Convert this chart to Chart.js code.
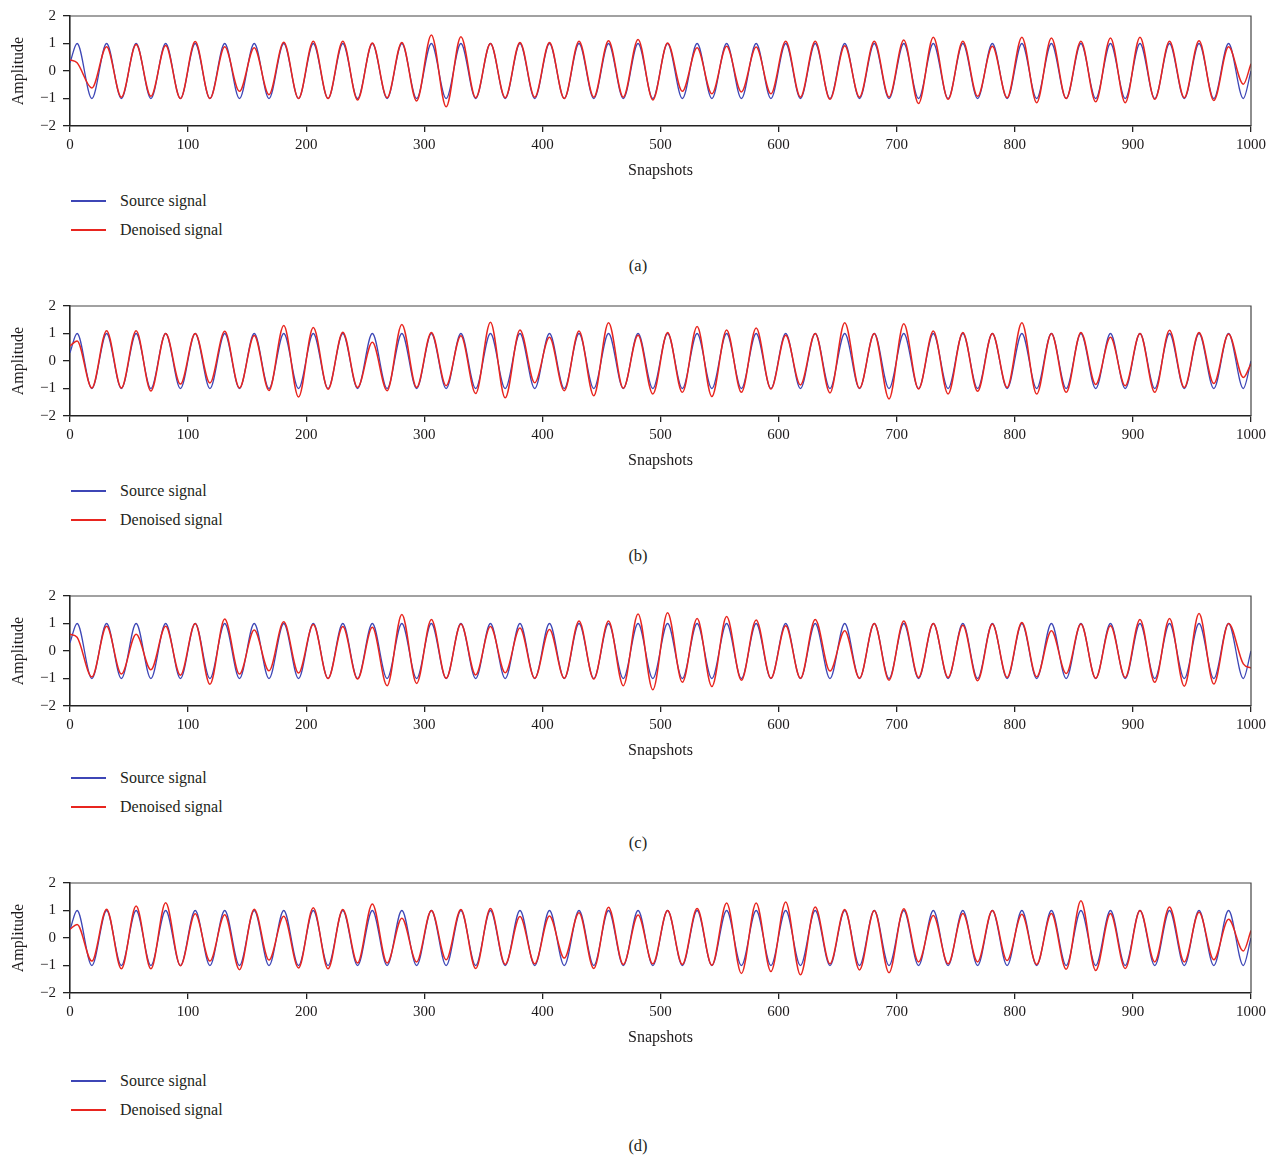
<!DOCTYPE html>
<html>
<head>
<meta charset="utf-8">
<title>Source vs denoised signal</title>
<script src="https://cdn.jsdelivr.net/npm/chart.js@4.4.0/dist/chart.umd.min.js"></script>
<style>
  body { margin: 0; background: #fff; }
  #page { position: relative; width: 1276px; height: 1160px; overflow: hidden;
          font-family: "Liberation Serif", "Times New Roman", serif; color: #231f20; }
  #page canvas { position: absolute; left: 0; }
  .legend-row { position: absolute; left: 71px; height: 20px; line-height: 20px; font-size: 16px; white-space: nowrap; }
  .legend-row .swatch { position: absolute; left: 0; top: 9px; width: 35px; height: 1.5px; }
  .legend-row .txt { position: absolute; left: 49px; }
  .caption { position: absolute; left: 0; width: 1276px; height: 20px; line-height: 20px; text-align: center; font-size: 16.5px; }
</style>
</head>
<body>
<div id="page"></div>
<script>
// axis ticks
const xTickValues = [0, 100, 200, 300, 400, 500, 600, 700, 800, 900, 1000];
const yTickValues = [-2, -1, 0, 1, 2];

// snapshot index of every crest / trough of the source sinusoid
const peakSnap = [6, 31, 56, 81, 106, 131, 156, 181, 206, 231, 256, 281, 306, 331, 356, 381, 406, 431, 456, 481,
                  506, 531, 556, 581, 606, 631, 656, 681, 706, 731, 756, 781, 806, 831, 856, 881, 906, 931, 956, 981];
const troughSnap = [18.5, 43.5, 68.5, 93.5, 118.5, 143.5, 168.5, 193.5, 218.5, 243.5, 268.5, 293.5, 318.5, 343.5, 368.5, 393.5, 418.5, 443.5, 468.5, 493.5,
                    518.5, 543.5, 568.5, 593.5, 618.5, 643.5, 668.5, 693.5, 718.5, 743.5, 768.5, 793.5, 818.5, 843.5, 868.5, 893.5, 918.5, 943.5, 968.5, 993.5];

// source signal (same in every panel): [value at 0, value at 1000], crests, troughs
const sourceEnds = [0.3, 0];
const sourcePeaks = [1, 1, 1, 1, 1, 1, 1, 1, 1, 1, 1, 1, 1, 1, 1, 1, 1, 1, 1, 1,
                     1, 1, 1, 1, 1, 1, 1, 1, 1, 1, 1, 1, 1, 1, 1, 1, 1, 1, 1, 1];
const sourceTroughs = [-1, -1, -1, -1, -1, -1, -1, -1, -1, -1, -1, -1, -1, -1, -1, -1, -1, -1, -1, -1,
                       -1, -1, -1, -1, -1, -1, -1, -1, -1, -1, -1, -1, -1, -1, -1, -1, -1, -1, -1, -1];

// denoised signal, panel (a)
const denoisedEndsA = [0.4, 0.26];
const denoisedPeaksA = [0.3, 0.88, 0.96, 0.93, 1.07, 0.88, 0.85, 1.05, 1.08, 1.08, 1.02, 1.04, 1.31, 1.25, 1.0, 1.04, 1.04, 1.08, 1.1, 1.15,
                        1.02, 0.85, 0.9, 0.87, 1.08, 1.08, 0.92, 1.08, 1.13, 1.23, 1.08, 0.9, 1.23, 1.2, 1.08, 1.2, 1.23, 1.08, 1.1, 0.88];
const denoisedTroughsA = [-0.62, -0.95, -0.92, -1.0, -1.0, -0.74, -0.86, -1.0, -1.0, -1.05, -0.97, -1.09, -1.3, -0.97, -0.97, -0.95, -1.0, -0.95, -0.95, -1.05,
                          -0.74, -0.83, -0.76, -0.83, -0.95, -1.03, -0.95, -0.95, -1.18, -1.03, -0.92, -0.97, -1.15, -1.0, -1.12, -1.15, -1.03, -0.97, -1.07, -0.48];

// denoised signal, panel (b)
const denoisedEndsB = [0.55, -0.1];
const denoisedPeaksB = [0.73, 1.1, 1.1, 1.0, 1.0, 1.08, 0.93, 1.29, 1.22, 1.05, 0.68, 1.33, 1.04, 0.92, 1.41, 1.13, 0.86, 1.09, 1.39, 0.94,
                        1.04, 1.25, 1.13, 1.2, 0.94, 1.0, 1.39, 1.0, 1.35, 1.09, 1.04, 1.0, 1.39, 1.0, 1.04, 0.86, 1.0, 1.12, 1.04, 0.98];
const denoisedTroughsB = [-0.98, -0.98, -1.09, -0.84, -0.8, -0.98, -1.07, -1.31, -1.03, -0.96, -1.08, -0.96, -0.9, -1.18, -1.34, -0.79, -1.08, -1.26, -0.99, -1.2,
                          -1.14, -1.29, -1.14, -1.02, -0.87, -1.16, -0.99, -1.38, -1.02, -1.2, -1.1, -0.96, -1.2, -1.14, -0.85, -0.9, -1.14, -0.96, -0.82, -0.6];

// denoised signal, panel (c)
const denoisedEndsC = [0.61, -0.62];
const denoisedPeaksC = [0.5, 0.9, 0.61, 0.9, 1.0, 1.16, 0.76, 1.06, 0.96, 0.89, 0.86, 1.33, 1.15, 0.98, 0.89, 0.84, 0.78, 1.09, 1.09, 1.35,
                        1.39, 1.18, 1.25, 1.13, 0.92, 1.15, 0.74, 1.0, 1.09, 1.0, 0.94, 0.98, 1.04, 0.74, 0.98, 0.92, 1.15, 1.18, 1.36, 1.0];
const denoisedTroughsC = [-0.94, -0.84, -0.68, -0.88, -1.21, -0.84, -0.72, -0.8, -1.0, -1.02, -1.26, -1.18, -0.99, -0.87, -0.79, -0.99, -0.99, -1.02, -1.26, -1.41,
                          -1.14, -1.29, -1.06, -0.99, -0.99, -0.73, -0.99, -1.06, -0.96, -0.96, -1.08, -0.96, -0.94, -0.82, -0.99, -0.96, -1.14, -1.28, -1.2, -0.47];

// denoised signal, panel (d)
const denoisedEndsD = [0.32, 0.27];
const denoisedPeaksD = [0.49, 1.05, 1.16, 1.28, 0.88, 0.85, 1.05, 0.79, 1.1, 1.04, 1.24, 0.72, 1.0, 1.04, 1.07, 0.78, 0.8, 0.92, 1.12, 0.84,
                        1.0, 1.07, 1.27, 1.27, 1.31, 1.13, 1.04, 1.0, 1.06, 0.82, 0.89, 1.0, 0.86, 0.89, 1.35, 0.89, 1.0, 1.13, 0.94, 0.68];
const denoisedTroughsD = [-0.84, -1.12, -1.12, -1.01, -0.84, -1.15, -0.8, -1.09, -1.12, -0.91, -0.91, -0.87, -0.79, -1.11, -0.96, -0.94, -0.73, -1.11, -0.96, -0.94,
                          -0.96, -0.99, -1.29, -1.22, -1.34, -0.94, -1.16, -1.26, -0.87, -0.94, -0.87, -0.82, -0.96, -1.14, -1.18, -1.11, -0.87, -0.87, -0.79, -0.47];

const panels = [
  { caption: '(a)', ends: denoisedEndsA, peaks: denoisedPeaksA, troughs: denoisedTroughsA, top: 0,   legendY: 201, captionY: 266 },
  { caption: '(b)', ends: denoisedEndsB, peaks: denoisedPeaksB, troughs: denoisedTroughsB, top: 290, legendY: 201, captionY: 266 },
  { caption: '(c)', ends: denoisedEndsC, peaks: denoisedPeaksC, troughs: denoisedTroughsC, top: 580, legendY: 198, captionY: 263 },
  { caption: '(d)', ends: denoisedEndsD, peaks: denoisedPeaksD, troughs: denoisedTroughsD, top: 867, legendY: 214, captionY: 279 }
];

const BLUE = '#3d46b6';
const RED = '#e8251f';
const INK = '#1d1a1b';
const CANVAS_W = 1276, CANVAS_H = 180, PLOT_TOP = 12, PLOT_H = 114;
const tickFont = { family: '"Liberation Serif", serif', size: 15 };
const titleFont = { family: '"Liberation Serif", serif', size: 16 };

// crest/trough list -> {x, y} points, the curve between them is left to Chart.js
function buildSeries(ends, peaks, troughs) {
  const pts = [{ x: 0, y: ends[0] }];
  peakSnap.forEach((s, i) => {
    pts.push({ x: s, y: peaks[i] });
    pts.push({ x: troughSnap[i], y: troughs[i] });
  });
  pts.push({ x: 1000, y: ends[1] });
  return pts;
}

// top + right edge of the plot box
const framePlugin = {
  id: 'frame',
  afterDraw(chart) {
    const { ctx, chartArea: a } = chart;
    ctx.save();
    ctx.strokeStyle = '#444';
    ctx.lineWidth = 1.2;
    ctx.beginPath();
    ctx.moveTo(a.left, a.top);
    ctx.lineTo(a.right, a.top);
    ctx.lineTo(a.right, a.bottom);
    ctx.stroke();
    ctx.restore();
  }
};

const page = document.getElementById('page');
const sourceData = buildSeries(sourceEnds, sourcePeaks, sourceTroughs);

panels.forEach(p => {
  const canvas = document.createElement('canvas');
  canvas.width = CANVAS_W;
  canvas.height = CANVAS_H;
  canvas.style.top = p.top + 'px';
  page.appendChild(canvas);

  new Chart(canvas, {
    type: 'line',
    data: {
      datasets: [
        { label: 'Denoised signal', data: buildSeries(p.ends, p.peaks, p.troughs), borderColor: RED, borderWidth: 1.5,
          pointRadius: 0, cubicInterpolationMode: 'monotone', fill: false },
        { label: 'Source signal', data: sourceData, borderColor: BLUE, borderWidth: 1.3,
          pointRadius: 0, cubicInterpolationMode: 'monotone', fill: false }
      ]
    },
    options: {
      responsive: false,
      animation: false,
      devicePixelRatio: 1,
      parsing: false,
      layout: { padding: { left: 0, right: 25, top: PLOT_TOP, bottom: 0 } },
      plugins: { legend: { display: false }, tooltip: { enabled: false } },
      scales: {
        x: {
          type: 'linear', min: 0, max: 1000,
          afterBuildTicks: s => { s.ticks = xTickValues.map(v => ({ value: v })); },
          afterFit: s => { s.height = CANVAS_H - PLOT_TOP - PLOT_H; },
          grid: { drawOnChartArea: false, drawTicks: true, tickLength: 6, color: '#222', lineWidth: 1.3 },
          border: { display: true, color: '#222', width: 1.6 },
          ticks: { font: tickFont, color: INK, padding: 4, maxRotation: 0, autoSkip: false,
                   callback: v => String(v) },
          title: { display: true, text: 'Snapshots', font: titleFont, color: INK, padding: { top: 0, bottom: 0 } }
        },
        y: {
          type: 'linear', min: -2, max: 2,
          afterBuildTicks: s => { s.ticks = yTickValues.map(v => ({ value: v })); },
          afterFit: s => { s.width = 70; },
          grid: { drawOnChartArea: false, drawTicks: true, tickLength: 7, color: '#222', lineWidth: 1.3 },
          border: { display: true, color: '#222', width: 1.6 },
          ticks: { font: tickFont, color: INK, padding: 7,
                   callback: v => (v < 0 ? '\u2212' + Math.abs(v) : String(v)) },
          title: { display: true, text: 'Amplitude', font: titleFont, color: INK, padding: { top: 9, bottom: 0 } }
        }
      }
    },
    plugins: [framePlugin]
  });

  // legend (two stacked rows) and caption
  [['Source signal', BLUE, 0], ['Denoised signal', RED, 29]].forEach(([text, color, dy]) => {
    const row = document.createElement('div');
    row.className = 'legend-row';
    row.style.top = (p.top + p.legendY + dy - 10) + 'px';
    row.innerHTML = '<span class="swatch" style="background:' + color + '"></span><span class="txt">' + text + '</span>';
    page.appendChild(row);
  });

  const cap = document.createElement('div');
  cap.className = 'caption';
  cap.style.top = (p.top + p.captionY - 10) + 'px';
  cap.textContent = p.caption;
  page.appendChild(cap);
});
</script>
</body>
</html>
